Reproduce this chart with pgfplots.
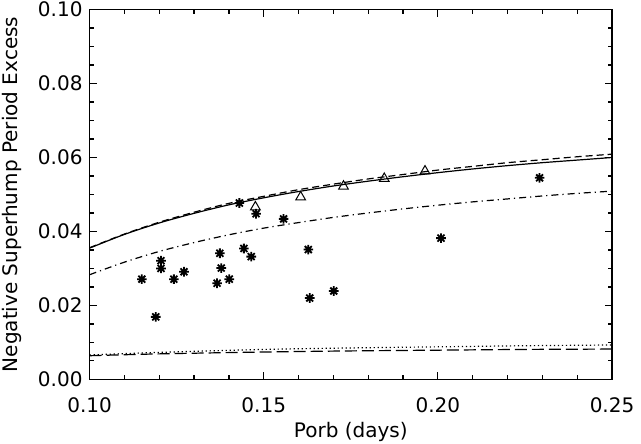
\documentclass[border=0pt]{standalone}
\usepackage{fontspec}
\setmainfont{DejaVu Sans}
\usepackage{pgfplots}
\pgfplotsset{compat=1.18}

% IDL-style asterisk: a plus and a cross laid over each other
\pgfdeclareplotmark{idlstar}{%
  \pgfpathmoveto{\pgfqpoint{-\pgfplotmarksize}{0pt}}%
  \pgfpathlineto{\pgfqpoint{\pgfplotmarksize}{0pt}}%
  \pgfpathmoveto{\pgfqpoint{0pt}{-\pgfplotmarksize}}%
  \pgfpathlineto{\pgfqpoint{0pt}{\pgfplotmarksize}}%
  \pgfpathmoveto{\pgfqpoint{-0.72\pgfplotmarksize}{-0.72\pgfplotmarksize}}%
  \pgfpathlineto{\pgfqpoint{0.72\pgfplotmarksize}{0.72\pgfplotmarksize}}%
  \pgfpathmoveto{\pgfqpoint{-0.72\pgfplotmarksize}{0.72\pgfplotmarksize}}%
  \pgfpathlineto{\pgfqpoint{0.72\pgfplotmarksize}{-0.72\pgfplotmarksize}}%
  \pgfusepathqstroke}

\begin{document}
\begin{tikzpicture}
\begin{axis}[
  scale only axis,
  width=261pt, height=184.75pt,
  xmin=0.10, xmax=0.25,
  ymin=0, ymax=0.10,
  xtick={0.10,0.15,0.20,0.25},
  ytick={0,0.02,0.04,0.06,0.08,0.10},
  minor x tick num=4,
  minor y tick num=3,
  xticklabel style={/pgf/number format/fixed,/pgf/number format/fixed zerofill,/pgf/number format/precision=2,yshift=-5.5pt},
  yticklabel style={/pgf/number format/fixed,/pgf/number format/fixed zerofill,/pgf/number format/precision=2,inner ysep=1pt},
  scaled ticks=false,
  /pgf/number format/assume math mode=true,
  tick align=inside,
  major tick length=3.5pt,
  minor tick length=2pt,
  tick style={black,line width=0.6pt},
  axis line style={line width=0.8pt},
  font=\fontsize{10}{12}\selectfont,
  xlabel={Porb (days)},
  ylabel={Negative Superhump Period Excess},
  xlabel style={yshift=-0.25pt,inner ysep=1pt},
  ylabel style={yshift=3.75pt,inner ysep=1pt},
]
% observed negative superhumps
\addplot[only marks,mark=idlstar,mark size=2.4pt,line width=0.9pt,black] coordinates {
  (0.1150,0.0271) (0.1190,0.0169) (0.1205,0.0321) (0.1205,0.0300)
  (0.1242,0.0271) (0.1271,0.0291) (0.1366,0.0260) (0.1374,0.0341)
  (0.1378,0.0301) (0.1401,0.0271) (0.1430,0.0477) (0.1443,0.0354)
  (0.1464,0.0332) (0.1478,0.0448) (0.1557,0.0434) (0.1628,0.0351)
  (0.1632,0.0220) (0.1701,0.0239) (0.2009,0.0382) (0.2292,0.0545)
};
% model points
\addplot[only marks,mark=triangle,mark size=2.8pt,line width=0.5pt,black] coordinates {
  (0.1476,0.0466) (0.1606,0.0493) (0.1729,0.0522) (0.1846,0.0543) (0.1963,0.0563)
};
% solid
\addplot[black,line width=0.6pt,smooth] coordinates {
  (0.10,0.0355) (0.11,0.0392) (0.12,0.0423) (0.13,0.0449) (0.14,0.0472)
  (0.15,0.0491) (0.16,0.0508) (0.17,0.0523) (0.18,0.0536) (0.19,0.0548)
  (0.20,0.0559) (0.21,0.0569) (0.22,0.0578) (0.23,0.0586) (0.24,0.0593)
  (0.25,0.0600)
};
% dashed
\addplot[black,line width=0.6pt,smooth,dash pattern=on 3.5pt off 2pt] coordinates {
  (0.10,0.0356) (0.11,0.0393) (0.12,0.0425) (0.13,0.0452) (0.14,0.0476)
  (0.15,0.0495) (0.16,0.0513) (0.17,0.0528) (0.18,0.0542) (0.19,0.0554)
  (0.20,0.0566) (0.21,0.0576) (0.22,0.0586) (0.23,0.0594) (0.24,0.0602)
  (0.25,0.0609)
};
% dash-dot
\addplot[black,line width=0.6pt,smooth,dash pattern=on 3.5pt off 2pt on 0.6pt off 2pt] coordinates {
  (0.10,0.0283) (0.11,0.0317) (0.12,0.0346) (0.13,0.0370) (0.14,0.0391)
  (0.15,0.0409) (0.16,0.0424) (0.17,0.0438) (0.18,0.0450) (0.19,0.0461)
  (0.20,0.0471) (0.21,0.0480) (0.22,0.0488) (0.23,0.0496) (0.24,0.0503)
  (0.25,0.0509)
};
% dotted
\addplot[black,line width=0.6pt,smooth,dash pattern=on 0.6pt off 1.4pt] coordinates {
  (0.10,0.0066) (0.12,0.0073) (0.15,0.0081) (0.175,0.0085) (0.20,0.0088)
  (0.225,0.0091) (0.25,0.0093)
};
% long dashed
\addplot[black,line width=0.6pt,smooth,dash pattern=on 6pt off 2.5pt] coordinates {
  (0.10,0.0064) (0.12,0.0069) (0.15,0.0074) (0.175,0.0077) (0.20,0.0079)
  (0.225,0.0081) (0.25,0.0082)
};
\end{axis}
\end{tikzpicture}
\end{document}
